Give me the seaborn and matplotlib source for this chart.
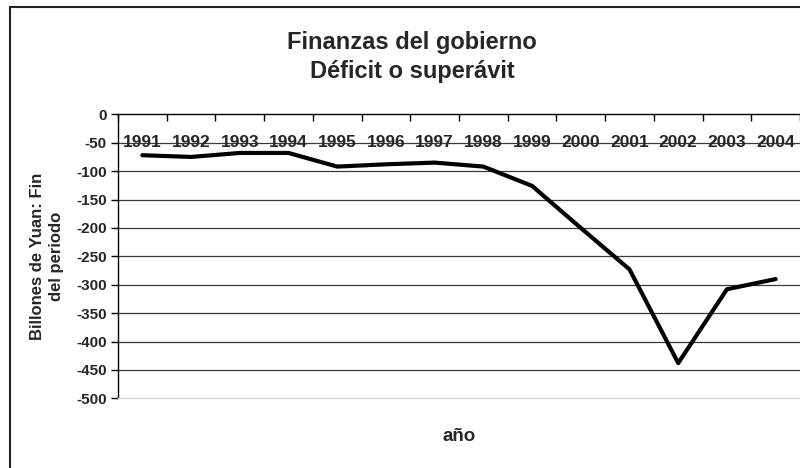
import numpy as np
import pandas as pd
import matplotlib
matplotlib.use('Agg')
import matplotlib.pyplot as plt
from matplotlib.patches import Rectangle
import seaborn as sns

# Datos del gráfico
anios = ['1991', '1992', '1993', '1994', '1995', '1996', '1997',
         '1998', '1999', '2000', '2001', '2002', '2003', '2004']
deficit = [-72, -75, -68, -68, -92, -88, -85, -92, -126, -200, -273, -438, -308, -290]
y_ticks = list(range(0, -501, -50))

titulo = 'Finanzas del gobierno\nDéficit o superávit'
etiqueta_y = 'Billones de Yuan: Fin\ndel periodo'
etiqueta_x = 'año'

sns.set_style('white')
plt.rcParams['font.family'] = ['Liberation Sans', 'DejaVu Sans']
plt.rcParams['font.weight'] = 'bold'

fig = plt.figure(figsize=(8, 4.68), dpi=100)
ax = fig.add_axes([0.1475, 0.1489, 0.8525, 0.6068])

df = pd.DataFrame({'pos': range(len(anios)), 'anio': anios, 'deficit': deficit})

# Líneas de cuadrícula
for v in y_ticks[1:-1]:
    ax.axhline(v, color='#3a3a3a', lw=0.9, zorder=0)

sns.lineplot(data=df, x='pos', y='deficit', color='black', linewidth=3,
             ax=ax, zorder=3)

ax.set_xlim(-0.5, len(anios) - 0.5)
ax.set_ylim(-500, 0)

# Eje Y
ax.set_yticks(y_ticks)
ax.set_yticklabels([str(v) for v in y_ticks], fontsize=11, fontweight='bold')
ax.tick_params(axis='y', direction='out', length=5, width=1, color='black', pad=3, left=True)

# Eje X arriba (cruza en 0), marcas entre categorías
ax.xaxis.tick_top()
ax.set_xticks(np.arange(-0.5, len(anios), 1.0))
ax.set_xticklabels([])
ax.tick_params(axis='x', direction='in', length=5, width=1, color='black', top=True)

for i, a in enumerate(anios):
    ax.text(i, -50, a, ha='center', va='center', fontsize=12.5, fontweight='bold',
            family=['Liberation Sans Narrow', 'Liberation Sans', 'DejaVu Sans'], zorder=4)

for lado in ['top', 'left']:
    ax.spines[lado].set_color('black')
    ax.spines[lado].set_linewidth(1)
ax.spines['bottom'].set_color('#d9d9d9')
ax.spines['bottom'].set_linewidth(1)
ax.spines['right'].set_visible(False)

ax.set_xlabel(etiqueta_x, fontsize=13.5, fontweight='bold', va='center')
ax.xaxis.set_label_coords(0.5, -0.136)
ax.set_ylabel(etiqueta_y, fontsize=12, fontweight='bold', va='center', linespacing=1.35)
ax.yaxis.set_label_coords(-0.104, 0.5)

fig.text(412 / 800, 1 - 57 / 468, titulo, ha='center', va='center',
         fontsize=17, fontweight='bold', linespacing=1.3)

# Borde del área del gráfico
fig.add_artist(Rectangle((10 / 800, -0.05), 1.0, 1 - 7 / 468 + 0.05,
                         transform=fig.transFigure, fill=False,
                         edgecolor='#222222', lw=1.5))

fig.savefig('out.png', dpi=100)
